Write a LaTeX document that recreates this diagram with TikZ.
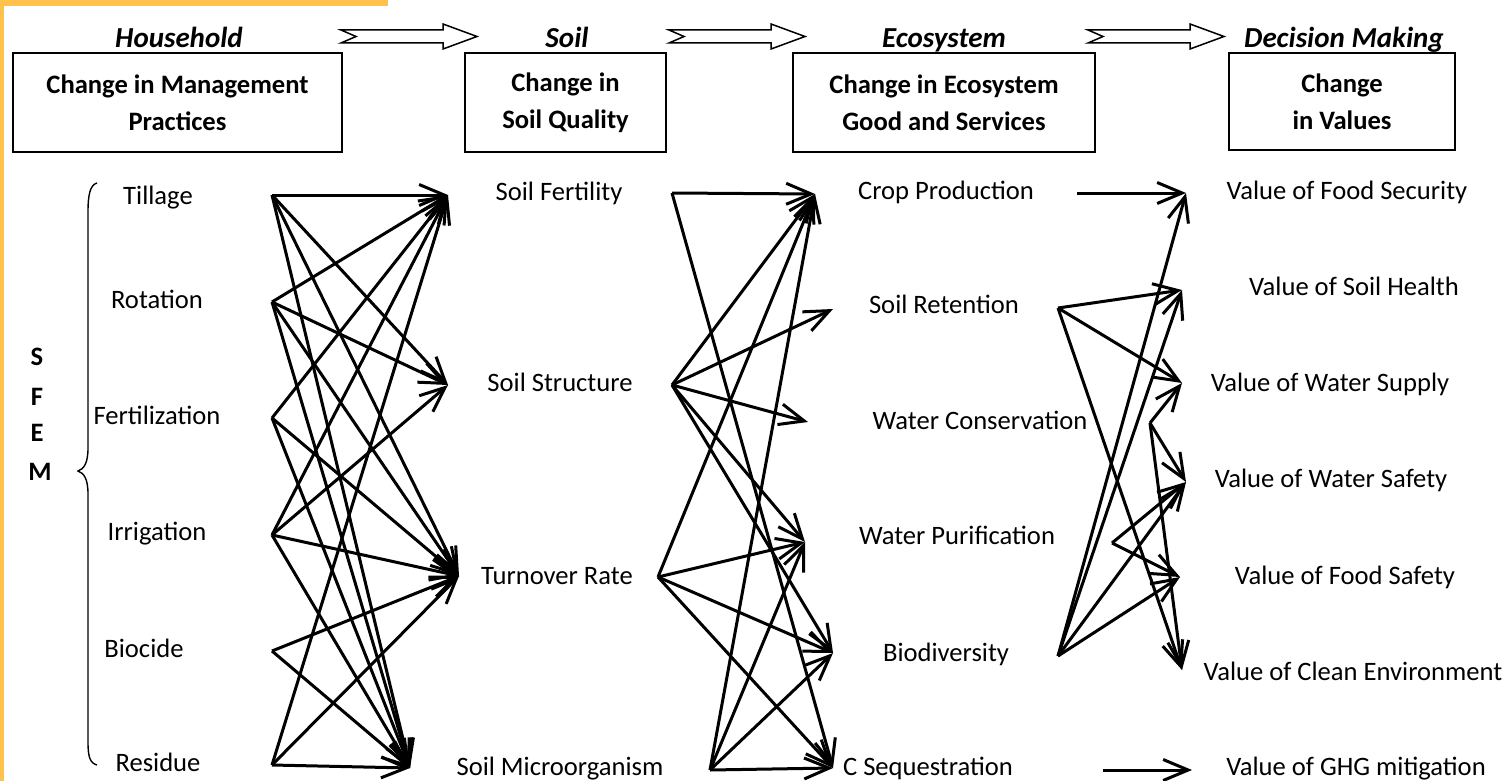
\documentclass[tikz,border=0pt]{standalone}
\usepackage{fontspec}
\setmainfont{Carlito}
\usetikzlibrary{arrows.meta}
\definecolor{frameorange}{RGB}{255,195,77}
\begin{document}
\begin{tikzpicture}[x=1pt,y=-1pt,
  lbl/.style={font=\fontsize{26.6}{30}\selectfont, anchor=base, inner sep=0pt},
  sfem/.style={font=\fontsize{26.6}{30}\selectfont\bfseries, anchor=base, inner sep=0pt},
  hdr/.style={font=\fontsize{29}{32}\selectfont\bfseries\itshape, anchor=base, inner sep=0pt},
  box/.style={draw, line width=1.8pt, font=\fontsize{26.6}{37}\selectfont\bfseries, align=center, inner sep=0pt, minimum height=99pt},
  conn/.style={line width=3pt, -{Straight Barb[length=25pt,width=21pt]}},
  bigarrow/.style={draw, line width=1.5pt, fill=white},
  pics/hollowarrow/.style={code={
    \draw[bigarrow] (0,-6.5) -- (102,-6.5) -- (102,-12.5) -- (136,0) -- (102,12.5) -- (102,6.5) -- (0,6.5) -- (15,0) -- cycle;}}
]
\useasboundingbox (0,0) rectangle (1512,781);
% frame
\fill[frameorange] (0,0) rectangle (388,6);
\fill[frameorange] (0,0) rectangle (4,781);

% header labels
\node[hdr] (h1) at (179,47.5) {Household};
\node[hdr] (h2) at (567,47.5) {Soil};
\node[hdr] (h3) at (944,47.5) {Ecosystem};
\node[hdr] (h4) at (1344,47.5) {Decision Making};

% header arrows
\pic at (341,36.5) {hollowarrow};
\pic at (669,36.5) {hollowarrow};
\pic at (1088,36.5) {hollowarrow};

% boxes
\node[box, minimum width=329pt] (b1) at (177.5,102.5) {Change in Management\\Practices};
\node[box, minimum width=201pt] (b2) at (565.5,102.5) {Change in\\Soil Quality};
\node[box, minimum width=302pt] (b3) at (944,102.5) {Change in Ecosystem\\Good and Services};
\node[box, minimum width=226pt, minimum height=97pt] (b4) at (1342,101.5) {Change\\in Values};

% SFEM and brace
\node[sfem] (s) at (37,365.5) {S};
\node[sfem] (f) at (37,405.5) {F};
\node[sfem] (e) at (37,441.5) {E};
\node[sfem] (m) at (40,480.5) {M};
\draw[line width=1.4pt] (97,183) .. controls (90,185) and (88,195) .. (88,212) -- (88,448)
  .. controls (88,463) and (84,469) .. (78,471) .. controls (84,473) and (88,479) .. (88,494)
  -- (88,742) .. controls (88,757) and (90,763) .. (97,765);

% column 1
\node[lbl] (til) at (158,204.5) {Tillage};
\node[lbl] (rot) at (157,308.5) {Rotation};
\node[lbl] (fer) at (157,424.5) {Fertilization};
\node[lbl] (irr) at (157,540.5) {Irrigation};
\node[lbl] (bio) at (144,657.5) {Biocide};
\node[lbl] (res) at (158,771.5) {Residue};
% column 2
\node[lbl] (sf) at (559,200.5) {Soil Fertility};
\node[lbl] (ss) at (560,391.5) {Soil Structure};
\node[lbl] (tr) at (557,584.5) {Turnover Rate};
\node[lbl] (sm) at (560,775.5) {Soil Microorganism};
% column 3
\node[lbl] (cp) at (946,199.5) {Crop Production};
\node[lbl] (sr) at (944,313.5) {Soil Retention};
\node[lbl] (wc) at (980,429.5) {Water Conservation};
\node[lbl] (wp) at (957,544.5) {Water Purification};
\node[lbl] (bd) at (946,661.5) {Biodiversity};
\node[lbl] (cs) at (928,775.5) {C Sequestration};
% column 4
\node[lbl] (v1) at (1347,199.5) {Value of Food Security};
\node[lbl] (v2) at (1354,295.5) {Value of Soil Health};
\node[lbl] (v3) at (1330,391.5) {Value of Water Supply};
\node[lbl] (v4) at (1331,487.5) {Value of Water Safety};
\node[lbl] (v5) at (1345,584.5) {Value of Food Safety};
\node[lbl] (v6) at (1353,680.5) {Value of Clean Environment};
\node[lbl] (v7) at (1356,775.5) {Value of GHG mitigation};

% connector end points
\coordinate (tilS) at (272,195);
\coordinate (rotS) at (272,302);
\coordinate (ferS) at (272,418);
\coordinate (irrS) at (272,535);
\coordinate (bioS) at (272,651);
\coordinate (resS) at (272,765);
\coordinate (sfT) at (448,195);
\coordinate (ssT) at (448,385);
\coordinate (trT) at (459,576);
\coordinate (smT) at (410,768);
\coordinate (sfS) at (672,193);
\coordinate (ssS) at (672,385);
\coordinate (trS) at (658,577);
\coordinate (smS) at (710,770);
\coordinate (cpT) at (815,194);
\coordinate (srT) at (833,309);
\coordinate (wcT) at (808,422);
\coordinate (wpT) at (805,542);
\coordinate (bdT) at (833,653);
\coordinate (csT) at (833,768);
\coordinate (cpS) at (1077,193);
\coordinate (srS) at (1058,308);
\coordinate (wcS) at (1150,423);
\coordinate (wpS) at (1112,543);
\coordinate (bdS) at (1058,656);
\coordinate (csS) at (1103,770);
\coordinate (v1T) at (1186,193);
\coordinate (v2T) at (1182,290);
\coordinate (v3T) at (1182,383);
\coordinate (v4T) at (1186,482);
\coordinate (v5T) at (1180,577);
\coordinate (v6T) at (1182,670);
\coordinate (v7T) at (1192,770);

% practices -> soil quality
\foreach \a/\b in {tilS/sfT,tilS/ssT,tilS/trT,tilS/smT,
                   rotS/sfT,rotS/ssT,rotS/trT,rotS/smT,
                   ferS/sfT,ferS/trT,ferS/smT,
                   irrS/sfT,irrS/ssT,irrS/trT,irrS/smT,
                   bioS/trT,bioS/smT,
                   resS/sfT,resS/trT,resS/smT}
  \draw[conn] (\a) -- (\b);
% soil quality -> ecosystem services
\foreach \a/\b in {sfS/cpT,sfS/csT,
                   ssS/cpT,ssS/srT,ssS/wcT,ssS/wpT,ssS/bdT,
                   trS/cpT,trS/wpT,trS/bdT,trS/csT,
                   smS/cpT,smS/wpT,smS/bdT,smS/csT}
  \draw[conn] (\a) -- (\b);
% ecosystem services -> values
\foreach \a/\b in {cpS/v1T,srS/v2T,srS/v3T,srS/v6T,
                   wcS/v3T,wcS/v4T,wcS/v6T,
                   wpS/v4T,wpS/v5T,
                   bdS/v1T,bdS/v2T,bdS/v4T,bdS/v5T,
                   csS/v7T}
  \draw[conn] (\a) -- (\b);
\end{tikzpicture}
\end{document}
